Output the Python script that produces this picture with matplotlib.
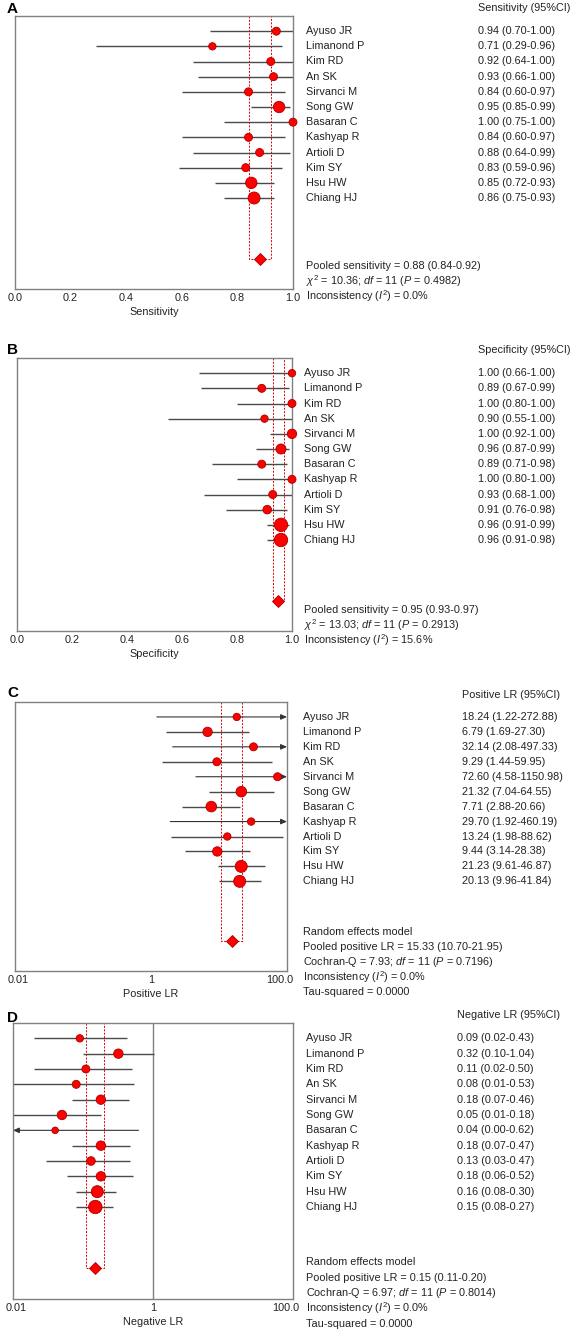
import numpy as np
import matplotlib
matplotlib.use("Agg")
import matplotlib.pyplot as plt
import matplotlib.transforms as mtransforms
from matplotlib.ticker import NullLocator

plt.rcParams['font.family'] = ['Liberation Sans', 'DejaVu Sans']
plt.rcParams['mathtext.fontset'] = 'custom'
plt.rcParams['mathtext.rm'] = 'Liberation Sans'
plt.rcParams['mathtext.it'] = 'Liberation Sans:italic'

# ---- data ----
studies = ['Ayuso JR', 'Limanond P', 'Kim RD', 'An SK', 'Sirvanci M', 'Song GW',
           'Basaran C', 'Kashyap R', 'Artioli D', 'Kim SY', 'Hsu HW', 'Chiang HJ']

sens = [0.94, 0.71, 0.92, 0.93, 0.84, 0.95, 1.00, 0.84, 0.88, 0.83, 0.85, 0.86]
sens_lo = [0.70, 0.29, 0.64, 0.66, 0.60, 0.85, 0.75, 0.60, 0.64, 0.59, 0.72, 0.75]
sens_hi = [1.00, 0.96, 1.00, 1.00, 0.97, 0.99, 1.00, 0.97, 0.99, 0.96, 0.93, 0.93]
sens_wt = [4.0, 3.7, 4.0, 4.0, 4.0, 5.7, 4.0, 4.0, 4.0, 4.0, 5.7, 6.0]
sens_pool = (0.88, 0.84, 0.92)

spec = [1.00, 0.89, 1.00, 0.90, 1.00, 0.96, 0.89, 1.00, 0.93, 0.91, 0.96, 0.96]
spec_lo = [0.66, 0.67, 0.80, 0.55, 0.92, 0.87, 0.71, 0.80, 0.68, 0.76, 0.91, 0.91]
spec_hi = [1.00, 0.99, 1.00, 1.00, 1.00, 0.99, 0.98, 1.00, 1.00, 0.98, 0.99, 0.98]
spec_wt = [3.7, 4.0, 4.0, 3.7, 4.7, 5.0, 4.0, 4.0, 4.0, 4.3, 6.7, 6.7]
spec_pool = (0.95, 0.93, 0.97)

plr = [18.24, 6.79, 32.14, 9.29, 72.60, 21.32, 7.71, 29.70, 13.24, 9.44, 21.23, 20.13]
plr_lo = [1.22, 1.69, 2.08, 1.44, 4.58, 7.04, 2.88, 1.92, 1.98, 3.14, 9.61, 9.96]
plr_hi = [272.88, 27.30, 497.33, 59.95, 1150.98, 64.55, 20.66, 460.19, 88.62, 28.38, 46.87, 41.84]
plr_wt = [3.7, 4.7, 4.0, 4.0, 4.0, 5.3, 5.3, 3.7, 3.7, 4.7, 6.0, 6.0]
plr_pool = (15.33, 10.70, 21.95)

nlr = [0.09, 0.32, 0.11, 0.08, 0.18, 0.05, 0.04, 0.18, 0.13, 0.18, 0.16, 0.15]
nlr_lo = [0.02, 0.10, 0.02, 0.01, 0.07, 0.01, 0.00, 0.07, 0.03, 0.06, 0.08, 0.08]
nlr_hi = [0.43, 1.04, 0.50, 0.53, 0.46, 0.18, 0.62, 0.47, 0.47, 0.52, 0.30, 0.27]
nlr_wt = [3.7, 4.7, 4.0, 4.0, 4.7, 4.7, 3.3, 4.7, 4.3, 4.7, 6.0, 6.7]
nlr_pool = (0.15, 0.11, 0.20)

lin_ticks = [0.0, 0.2, 0.4, 0.6, 0.8, 1.0]
lin_ticklabels = ['0.0', '0.2', '0.4', '0.6', '0.8', '1.0']
log_ticks = [0.01, 1, 100]
log_ticklabels = ['0.01', '1', '100.0']

sens_notes = ['Pooled sensitivity = 0.88 (0.84-0.92)',
              r'$\chi^2$ = 10.36; $\it{df}$ = 11 ($\it{P}$ = 0.4982)',
              r'Inconsistency ($\it{I}^2$) = 0.0%']
spec_notes = ['Pooled sensitivity = 0.95 (0.93-0.97)',
              r'$\chi^2$ = 13.03; $\it{df}$ = 11 ($\it{P}$ = 0.2913)',
              r'Inconsistency ($\it{I}^2$) = 15.6%']
plr_notes = ['Random effects model',
             'Pooled positive LR = 15.33 (10.70-21.95)',
             r'Cochran-Q = 7.93; $\it{df}$ = 11 ($\it{P}$ = 0.7196)',
             r'Inconsistency ($\it{I}^2$) = 0.0%',
             'Tau-squared = 0.0000']
nlr_notes = ['Random effects model',
             'Pooled positive LR = 0.15 (0.11-0.20)',
             r'Cochran-Q = 6.97; $\it{df}$ = 11 ($\it{P}$ = 0.8014)',
             r'Inconsistency ($\it{I}^2$) = 0.0%',
             'Tau-squared = 0.0000']

W, H = 573, 1338
FS = 7.8
TXT = '#222222'
RED = '#ff0000'
EDGE = '#a80000'
SPINE = '#808080'

fig = plt.figure(figsize=(W / 100, H / 100), dpi=100)


def px_axes(l, t, r, b):
    return fig.add_axes([l / W, 1 - b / H, (r - l) / W, (b - t) / H])


def arrow(ax, x0, x1, y):
    ax.annotate('', xy=(x1, y), xytext=(x0, y),
                arrowprops=dict(arrowstyle='-|>,head_length=0.45,head_width=0.2',
                                color='#333333', lw=0.8, shrinkA=0, shrinkB=0,
                                mutation_scale=8), zorder=2)


def forest(ax, est, lo, hi, wt, pool, xlim, log, ticks, ticklabels, xlabel,
           header, notes, note_start, name_x, val_x, letter, letter_y):
    rows = np.arange(len(est))
    if log:
        ax.set_xscale('log')
    ax.set_xlim(*xlim)
    ax.set_ylim(17, -1)

    for y, l, h in zip(rows, lo, hi):
        left = max(l, xlim[0])
        right = min(h, xlim[1])
        if h > xlim[1]:
            arrow(ax, left, xlim[1], y)
        elif l < xlim[0] or l <= 0:
            arrow(ax, right, xlim[0], y)
        else:
            ax.plot([left, right], [y, y], color='#4a4a4a', lw=1.0, zorder=2,
                    solid_capstyle='butt')

    sizes = (2 * np.array(wt) * 0.72) ** 2
    ax.scatter(est, rows, s=sizes, c=RED, edgecolors=EDGE, linewidths=0.6,
               zorder=3, clip_on=False)

    p, plo, phi = pool
    yd = 15
    ax.plot([plo, plo, phi, phi], [-1, yd, yd, -1], color='#e00000', lw=0.7,
            ls=(0, (2.0, 1.5)), zorder=1)
    ax.plot([p], [yd], marker='D', ms=6.5, mfc=RED, mec=EDGE, mew=0.6, zorder=4)

    ax.set_yticks([])
    ax.set_xticks(ticks)
    ax.set_xticklabels(ticklabels)
    ax.xaxis.set_minor_locator(NullLocator())
    ax.tick_params(axis='x', length=0, pad=3, labelsize=FS, labelcolor=TXT)
    ax.set_xlabel(xlabel, fontsize=FS, color=TXT, labelpad=3)
    for s in ax.spines.values():
        s.set_color(SPINE)
        s.set_linewidth(1.0)
    if log:
        labs = ax.get_xticklabels()
        labs[0].set_transform(labs[0].get_transform() +
                              mtransforms.ScaledTranslation(3 / 100, 0, fig.dpi_scale_trans))
        labs[-1].set_transform(labs[-1].get_transform() +
                               mtransforms.ScaledTranslation(-7 / 100, 0, fig.dpi_scale_trans))

    tr = mtransforms.blended_transform_factory(fig.transFigure, ax.transData)
    ax.text(val_x / W, -1.5, header, transform=tr, fontsize=FS, color=TXT,
            va='center', ha='left')
    for y, name, e, l, h in zip(rows, studies, est, lo, hi):
        ax.text(name_x / W, y, name, transform=tr, fontsize=FS, color=TXT,
                va='center', ha='left')
        ax.text(val_x / W, y, f'{e:.2f} ({l:.2f}-{h:.2f})', transform=tr,
                fontsize=FS, color=TXT, va='center', ha='left')
    for i, line in enumerate(notes):
        ax.text(name_x / W, note_start + i, line, transform=tr, fontsize=FS,
                color=TXT, va='center', ha='left')

    fig.text(7 / W, 1 - letter_y / H, letter, fontsize=11, fontweight='bold',
             color='black', va='center', ha='left')


axA = px_axes(15, 16, 293, 289)
forest(axA, sens, sens_lo, sens_hi, sens_wt, sens_pool, (0, 1), False,
       lin_ticks, lin_ticklabels, 'Sensitivity', 'Sensitivity (95%CI)',
       sens_notes, 15.5, 306, 478, 'A', 9)

axB = px_axes(17, 358, 292, 631)
forest(axB, spec, spec_lo, spec_hi, spec_wt, spec_pool, (0, 1), False,
       lin_ticks, lin_ticklabels, 'Specificity', 'Specificity (95%CI)',
       spec_notes, 15.6, 304, 478, 'B', 350)

axC = px_axes(15, 702, 287, 971)
forest(axC, plr, plr_lo, plr_hi, plr_wt, plr_pool, (0.01, 100), True,
       log_ticks, log_ticklabels, 'Positive LR', 'Positive LR (95%CI)',
       plr_notes, 14.4, 303, 462, 'C', 693)

axD = px_axes(13, 1023, 293, 1299)
axD.axvline(1, color=SPINE, lw=1.0, zorder=1)
forest(axD, nlr, nlr_lo, nlr_hi, nlr_wt, nlr_pool, (0.01, 100), True,
       log_ticks, log_ticklabels, 'Negative LR', 'Negative LR (95%CI)',
       nlr_notes, 14.6, 306, 457, 'D', 1018)

fig.savefig('out.png', dpi=100)
